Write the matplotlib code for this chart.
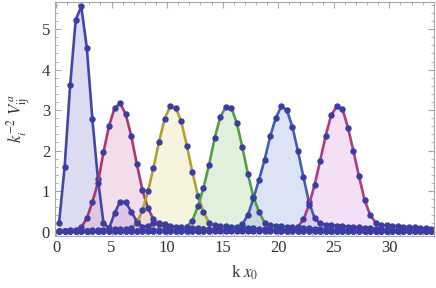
"""
Fourier weights k_i^-2 V_ij^a of six localized states, plotted against k x0.
"""

import numpy as np
import matplotlib

matplotlib.use("Agg")
import matplotlib.pyplot as plt
from matplotlib.ticker import MultipleLocator

# sampling grid in k x0 (uniform steps of 0.5)
K_START = 0.27
K_STEP = 0.5
N_POINTS = 68

curve_1 = [
    0.21, 1.59, 3.62, 5.23, 5.56, 4.54, 2.78, 1.30, 0.21, 0.08,
    0.45, 0.74, 0.72, 0.49, 0.25, 0.12, 0.14, 0.20, 0.22, 0.18,
    0.12, 0.09, 0.08, 0.08, 0.07, 0.06, 0.06, 0.05, 0.05, 0.04,
    0.04, 0.04, 0.04, 0.03, 0.03, 0.03, 0.03, 0.03, 0.03, 0.03,
    0.02, 0.02, 0.02, 0.02, 0.02, 0.02, 0.02, 0.02, 0.02, 0.02,
    0.02, 0.02, 0.02, 0.02, 0.02, 0.02, 0.02, 0.02, 0.02, 0.02,
    0.02, 0.02, 0.02, 0.02, 0.02, 0.02, 0.02, 0.02,
]
curve_2 = [
    0.02, 0.02, 0.03, 0.05, 0.10, 0.33, 0.73, 1.20, 1.96, 2.61,
    3.05, 3.17, 2.90, 2.36, 1.67, 1.03, 0.58, 0.30, 0.18, 0.14,
    0.13, 0.12, 0.11, 0.10, 0.09, 0.08, 0.07, 0.06, 0.05, 0.05,
    0.04, 0.04, 0.04, 0.03, 0.03, 0.03, 0.03, 0.03, 0.02, 0.02,
    0.02, 0.02, 0.02, 0.02, 0.02, 0.02, 0.02, 0.02, 0.02, 0.02,
    0.02, 0.02, 0.02, 0.02, 0.02, 0.02, 0.02, 0.02, 0.02, 0.02,
    0.02, 0.02, 0.02, 0.02, 0.02, 0.02, 0.02, 0.02,
]
curve_3 = [
    0.02, 0.02, 0.02, 0.02, 0.02, 0.02, 0.03, 0.04, 0.05, 0.06,
    0.06, 0.06, 0.06, 0.09, 0.20, 0.52, 0.99, 1.58, 2.22, 2.78,
    3.09, 3.06, 2.72, 2.12, 1.47, 0.89, 0.48, 0.22, 0.15, 0.14,
    0.13, 0.12, 0.11, 0.10, 0.09, 0.08, 0.07, 0.06, 0.05, 0.05,
    0.04, 0.04, 0.04, 0.03, 0.03, 0.03, 0.03, 0.02, 0.02, 0.02,
    0.02, 0.02, 0.02, 0.02, 0.02, 0.02, 0.02, 0.02, 0.02, 0.02,
    0.02, 0.02, 0.02, 0.02, 0.02, 0.02, 0.02, 0.02,
]
curve_4 = [
    0.02, 0.02, 0.02, 0.02, 0.02, 0.02, 0.02, 0.02, 0.02, 0.02,
    0.02, 0.02, 0.02, 0.02, 0.02, 0.03, 0.03, 0.03, 0.04, 0.04,
    0.04, 0.05, 0.06, 0.12, 0.27, 0.62, 1.08, 1.65, 2.30, 2.82,
    3.08, 3.06, 2.68, 2.08, 1.42, 0.85, 0.48, 0.22, 0.15, 0.14,
    0.13, 0.12, 0.11, 0.10, 0.09, 0.08, 0.07, 0.06, 0.05, 0.05,
    0.04, 0.04, 0.03, 0.03, 0.03, 0.03, 0.02, 0.02, 0.02, 0.02,
    0.02, 0.02, 0.02, 0.02, 0.02, 0.02, 0.02, 0.02,
]
curve_5 = [
    0.02, 0.02, 0.02, 0.02, 0.02, 0.02, 0.02, 0.02, 0.02, 0.02,
    0.02, 0.02, 0.02, 0.02, 0.02, 0.02, 0.02, 0.02, 0.02, 0.02,
    0.02, 0.02, 0.02, 0.02, 0.02, 0.02, 0.02, 0.02, 0.03, 0.03,
    0.03, 0.04, 0.08, 0.18, 0.41, 0.82, 1.28, 1.77, 2.35, 2.80,
    3.09, 3.00, 2.59, 1.99, 1.34, 0.72, 0.33, 0.20, 0.17, 0.15,
    0.14, 0.13, 0.12, 0.11, 0.10, 0.09, 0.08, 0.07, 0.06, 0.05,
    0.05, 0.04, 0.04, 0.03, 0.03, 0.03, 0.02, 0.02,
]
curve_6 = [
    0.02, 0.02, 0.02, 0.02, 0.02, 0.02, 0.02, 0.02, 0.02, 0.02,
    0.02, 0.02, 0.02, 0.02, 0.02, 0.02, 0.02, 0.02, 0.02, 0.02,
    0.02, 0.02, 0.02, 0.02, 0.02, 0.02, 0.02, 0.02, 0.02, 0.02,
    0.02, 0.02, 0.02, 0.02, 0.02, 0.02, 0.02, 0.02, 0.03, 0.03,
    0.03, 0.04, 0.06, 0.12, 0.30, 0.66, 1.15, 1.75, 2.37, 2.88,
    3.09, 3.03, 2.57, 1.98, 1.36, 0.78, 0.41, 0.22, 0.16, 0.15,
    0.14, 0.13, 0.12, 0.11, 0.10, 0.09, 0.08, 0.07,
]

line_colors = ["#4545ad", "#a8386e", "#b0a232", "#55a040", "#3f5fb0", "#b03c80"]
fill_colors = ["#9a9ad8", "#e0a0c8", "#e8e2a0", "#a8d49a", "#9ab0e0", "#e0a8e0"]
MARKER_COLOR = "#3c3ca8"
FRAME_COLOR = "#a8a8a8"


def main() -> None:
    plt.rcParams["font.family"] = ["Liberation Serif", "DejaVu Serif"]
    plt.rcParams["mathtext.fontset"] = "stix"

    k = K_START + K_STEP * np.arange(N_POINTS)
    curves = [curve_1, curve_2, curve_3, curve_4, curve_5, curve_6]

    fig = plt.figure(figsize=(4.36, 2.88), dpi=100)
    ax = fig.add_axes([0.126, 0.182, 0.869, 0.811])

    for values, lc, fc in zip(curves, line_colors, fill_colors):
        ax.fill_between(k, 0, values, color=fc, alpha=0.35, linewidth=0)
    for values, lc in zip(curves, line_colors):
        ax.plot(
            k, values, color=lc, linewidth=1.9,
            marker="o", markersize=3.6,
            markerfacecolor=MARKER_COLOR, markeredgecolor=MARKER_COLOR,
        )

    ax.set_xlim(-0.1, 34.0)
    ax.set_ylim(-0.1, 5.67)
    ax.xaxis.set_major_locator(MultipleLocator(5))
    ax.xaxis.set_minor_locator(MultipleLocator(1))
    ax.yaxis.set_major_locator(MultipleLocator(1))
    ax.yaxis.set_minor_locator(MultipleLocator(0.2))

    for spine in ax.spines.values():
        spine.set_color(FRAME_COLOR)
        spine.set_linewidth(0.8)
    ax.tick_params(
        which="both", direction="in", colors=FRAME_COLOR,
        top=True, right=True, labelcolor="#333333", labelsize=12,
    )
    ax.tick_params(which="major", length=4)
    ax.tick_params(which="minor", length=2)

    ax.set_xlabel(r"k $x_0$", fontsize=12, color="#333333", labelpad=5)
    ax.set_ylabel(
        r"$k_i^{-2}\ V_{\mathrm{ij}}^{\,a}$", fontsize=12, color="#333333",
        labelpad=6,
    )

    fig.savefig("out.png", dpi=100)


if __name__ == "__main__":
    main()
